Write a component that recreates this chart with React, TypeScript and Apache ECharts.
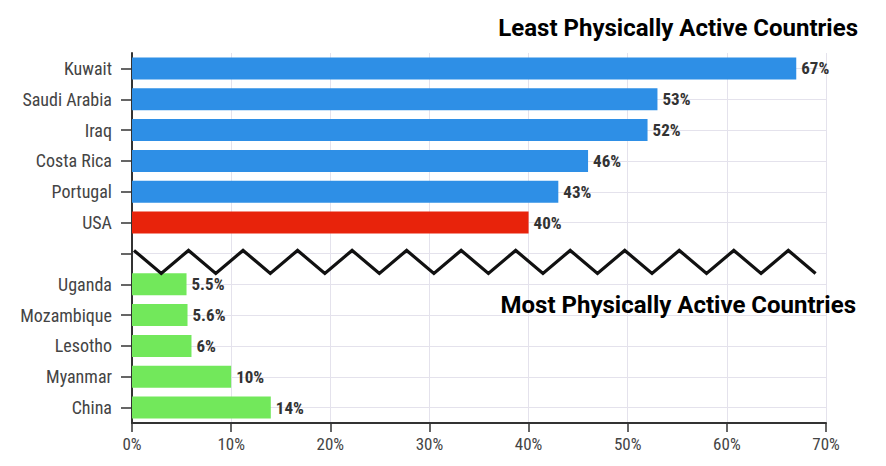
import React, { useEffect, useRef } from "react";
import * as echarts from "echarts";

const countries = ["Kuwait", "Saudi Arabia", "Iraq", "Costa Rica", "Portugal", "USA", "", "Uganda", "Mozambique", "Lesotho", "Myanmar", "China"];
const inactivePct: (number | null)[] = [67, 53, 52, 46, 43, 40, null, 5.5, 5.6, 6, 10, 14];
const barColors = ["#2E8FE6", "#2E8FE6", "#2E8FE6", "#2E8FE6", "#2E8FE6", "#E8230B", "", "#72E85B", "#72E85B", "#72E85B", "#72E85B", "#72E85B"];
const xTicks = [0, 10, 20, 30, 40, 50, 60, 70];
const titleTop = "Least Physically Active Countries";
const titleBottom = "Most Physically Active Countries";

const condensed = "'Roboto Condensed', 'Liberation Sans Narrow', 'DejaVu Sans Condensed', Roboto, sans-serif";

export default function App() {
  const ref = useRef<HTMLDivElement>(null);
  useEffect(() => {
    if (!ref.current) return;
    const chart = echarts.init(ref.current, undefined, { renderer: "svg" });
    const option: any = {
      animation: false,
      backgroundColor: "#ffffff",
      grid: { left: 132, right: 60, top: 53, bottom: 43 },
      xAxis: {
        type: "value",
        min: xTicks[0],
        max: xTicks[xTicks.length - 1],
        interval: 10,
        axisLine: { show: true, lineStyle: { color: "#333", width: 2 } },
        axisTick: { show: true, length: 9, lineStyle: { color: "#333", width: 1.5 } },
        axisLabel: { formatter: "{value}%", color: "#444", fontSize: 17, fontFamily: condensed, margin: 12 },
        splitLine: { show: true, lineStyle: { color: "#E4E2EC", width: 1 } },
      },
      yAxis: {
        type: "category",
        inverse: true,
        data: countries,
        axisLine: { show: true, lineStyle: { color: "#333", width: 2 } },
        axisTick: { show: true, alignWithLabel: true, length: 11, lineStyle: { color: "#333", width: 1.5 } },
        axisLabel: { color: "#444", fontSize: 18, fontFamily: condensed, margin: 20 },
        splitLine: { show: true, alignWithLabel: true, lineStyle: { color: "#E4E2EC", width: 1 } },
      },
      title: [
        { text: titleTop, right: 23, top: 11, textStyle: { fontFamily: "Roboto", fontWeight: "bold", fontSize: 24, color: "#000" } },
        { text: titleBottom, right: 25, top: 288, textStyle: { fontFamily: "Roboto", fontWeight: "bold", fontSize: 24, color: "#000" } },
      ],
      series: [
        {
          type: "bar",
          barWidth: 22,
          data: inactivePct.map((v, i) => ({ value: v, itemStyle: { color: barColors[i] } })),
          label: {
            show: true,
            position: "right",
            distance: 5,
            formatter: (p: any) => (p.value == null ? "" : `${p.value}%`),
            fontFamily: condensed,
            fontWeight: "bold",
            fontSize: 17,
            color: "#333",
          },
        },
      ],
    };
    chart.setOption(option);

    // decorative zigzag break across the empty category row
    const rowY = chart.convertToPixel({ yAxisIndex: 0 }, 6) as number;
    const pts: number[][] = [];
    const x0 = chart.convertToPixel({ xAxisIndex: 0 }, 0.2) as number;
    const half = (chart.convertToPixel({ xAxisIndex: 0 }, 2.75) as number) - (chart.convertToPixel({ xAxisIndex: 0 }, 0) as number);
    for (let k = 0; k <= 25; k++) {
      pts.push([x0 + k * half, k % 2 === 0 ? rowY - 3 : rowY + 20]);
    }
    chart.setOption({
      graphic: [
        { type: "polyline", shape: { points: pts }, style: { stroke: "#111", lineWidth: 3.2, fill: null, lineJoin: "miter" }, z: 10 },
      ],
    });
    return () => chart.dispose();
  }, []);
  return <div ref={ref} style={{ position: "fixed", left: 0, top: 0, width: 886, height: 466 }} />;
}
